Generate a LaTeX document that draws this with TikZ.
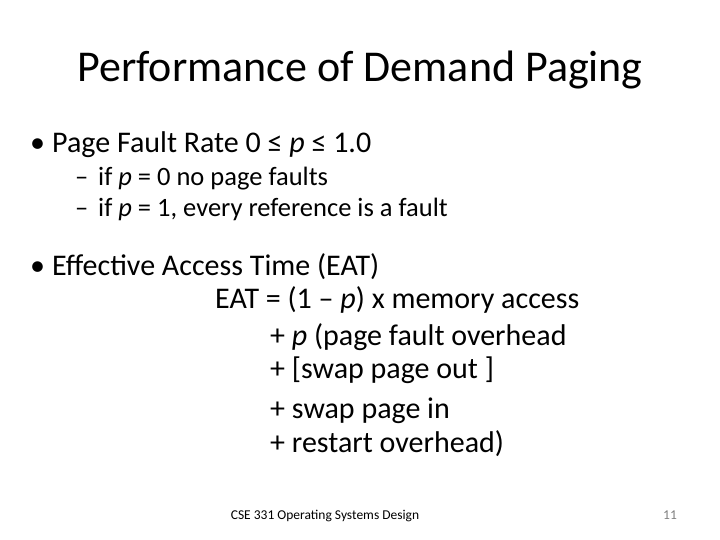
\documentclass[tikz,border=0pt]{standalone}
\usepackage{fontspec}
\setmainfont{Carlito}
\begin{document}
\begin{tikzpicture}[x=1pt,y=-1pt,
  txt/.style={anchor=base west,inner sep=0pt,font=\fontsize{30}{34}\selectfont},
  sub/.style={anchor=base west,inner sep=0pt,font=\fontsize{26.5}{30}\selectfont}]
\useasboundingbox (0,0) rectangle (720,540);
\node[anchor=base,inner sep=0pt,font=\fontsize{44}{50}\selectfont] (title) at (360,82) {Performance of Demand Paging};
\node[txt] (b1) at (30,153) {•};
\node[txt] (l1) at (52,153) {Page Fault Rate 0 ≤ \textit{p} ≤ 1.0};
\node[sub] (d1) at (75,186) {–};
\node[sub] (l2) at (98,186) {if \textit{p} = 0 no page faults};
\node[sub] (d2) at (75,216) {–};
\node[sub] (l3) at (98,216) {if \textit{p} = 1, every reference is a fault};
\node[txt] (b2) at (30,275) {•};
\node[txt] (l4) at (52,275) {Effective Access Time (EAT)};
\node[txt] (l5) at (215,308) {EAT = (1 – \textit{p}) x memory access};
\node[txt] (l6) at (270,345) {+ \textit{p} (page fault overhead};
\node[txt] (l7) at (270,378) {+ [swap page out ]};
\node[txt] (l8) at (270,418) {+ swap page in};
\node[txt] (l9) at (270,452) {+ restart overhead)};
\node[anchor=base,inner sep=0pt,font=\fontsize{13.5}{16}\selectfont] (foot) at (325,519) {CSE 331 Operating Systems Design};
\node[anchor=base,inner sep=0pt,font=\fontsize{13.5}{16}\selectfont,text=gray] (num) at (670,519) {11};
\end{tikzpicture}
\end{document}
